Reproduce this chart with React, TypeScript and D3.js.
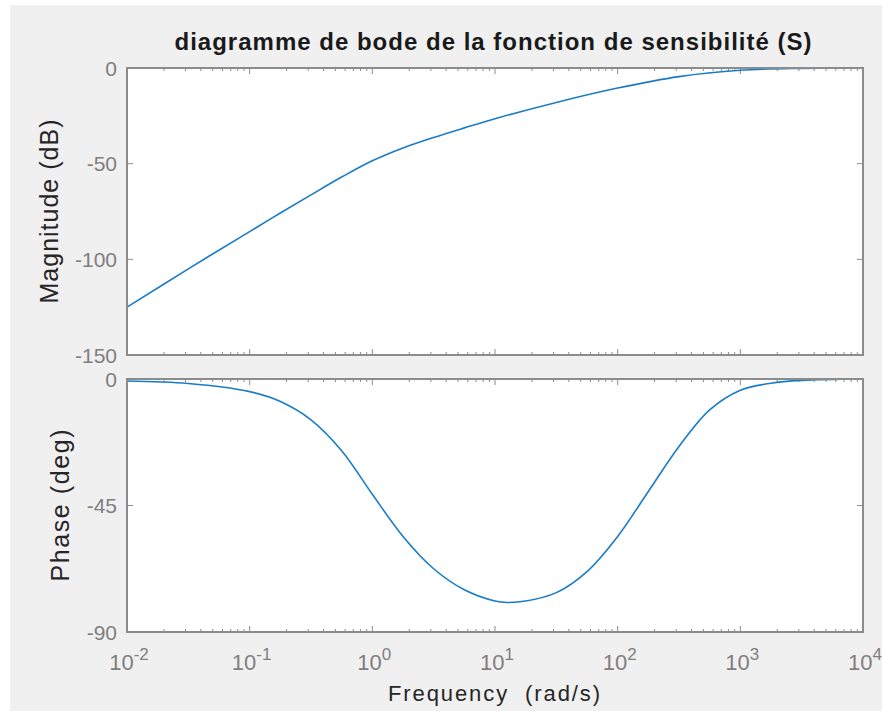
import React, { useEffect, useRef } from 'react';
import * as d3 from 'd3';

// frequencies as log10(rad/s)
const magFreqExp = [-2, -1.5, -1, -0.75, -0.5, -0.25, 0, 0.25, 0.5, 0.75, 1, 1.5, 2, 2.5, 3, 3.5, 4];
const magDb = [-125, -105, -85.5, -75.8, -66.3, -57, -48.5, -41.8, -36.3, -31.3, -26.5, -18, -10.5, -4.5, -1.2, -0.2, 0];

const phaseFreqExp = [-2, -1.5, -1, -0.75, -0.5, -0.25, 0, 0.25, 0.5, 0.75, 1, 1.1, 1.25, 1.5, 1.75, 2, 2.25, 2.5, 2.75, 3, 3.25, 3.5, 4];
const phaseDeg = [-0.7, -1.6, -4.5, -8, -14.5, -25.5, -41, -56, -67.5, -75, -79, -79.5, -79, -76, -68.5, -56, -40, -24, -11, -4, -1.5, -0.5, 0];

const decades = [-2, -1, 0, 1, 2, 3, 4];
const magTicks = [0, -50, -100, -150];
const phaseTicks = [0, -45, -90];

const title = 'diagramme de bode de la fonction de sensibilité (S)';

const App = () => {
  const svgRef = useRef<SVGSVGElement>(null);

  useEffect(() => {
    const width = 882;
    const height = 711;
    const left = 127;
    const right = 863;
    const font = 'Liberation Sans, Arial, Helvetica, sans-serif';
    const axisColor = '#8c8c8c';
    const lineColor = '#1a7cc6';

    const svg = d3.select(svgRef.current);
    svg.selectAll('*').remove();
    svg.attr('width', width).attr('height', height);

    svg.append('rect').attr('x', 10).attr('y', 5).attr('width', width - 10).attr('height', height - 5).attr('fill', '#f0f0f0');

    const x = d3.scaleLog().domain([1e-2, 1e4]).range([left, right]);

    const minorTicks: number[] = [];
    decades.slice(0, -1).forEach(e => {
      for (let k = 2; k <= 9; k++) minorTicks.push(k * Math.pow(10, e));
    });

    const drawPanel = (top: number, bottom: number, yDomain: [number, number], yTicks: number[], fx: number[], fy: number[], label: string, labelX: number, labelLen: number) => {
      const y = d3.scaleLinear().domain(yDomain).range([bottom, top]);
      const g = svg.append('g');
      g.append('rect').attr('x', left).attr('y', top).attr('width', right - left).attr('height', bottom - top).attr('fill', 'white');

      // ticks on all four sides, pointing inwards
      decades.forEach(e => {
        const px = x(Math.pow(10, e));
        g.append('line').attr('x1', px).attr('x2', px).attr('y1', bottom).attr('y2', bottom - 6).attr('stroke', axisColor);
        g.append('line').attr('x1', px).attr('x2', px).attr('y1', top).attr('y2', top + 6).attr('stroke', axisColor);
      });
      minorTicks.forEach(v => {
        const px = x(v);
        g.append('line').attr('x1', px).attr('x2', px).attr('y1', bottom).attr('y2', bottom - 3).attr('stroke', axisColor);
        g.append('line').attr('x1', px).attr('x2', px).attr('y1', top).attr('y2', top + 3).attr('stroke', axisColor);
      });
      yTicks.forEach(t => {
        const py = y(t);
        g.append('line').attr('x1', left).attr('x2', left + 6).attr('y1', py).attr('y2', py).attr('stroke', axisColor);
        g.append('line').attr('x1', right).attr('x2', right - 6).attr('y1', py).attr('y2', py).attr('stroke', axisColor);
        g.append('text').attr('x', left - 10).attr('y', py).attr('dy', '0.36em').attr('text-anchor', 'end')
          .attr('font-family', font).attr('font-size', 21).attr('fill', '#7f7f7f').text(t);
      });

      const line = d3.line<number>()
        .x((_, i) => x(Math.pow(10, fx[i])))
        .y(d => y(d))
        .curve(d3.curveCatmullRom.alpha(0.5));
      g.append('path').datum(fy).attr('d', line).attr('fill', 'none').attr('stroke', lineColor).attr('stroke-width', 1.6);

      g.append('rect').attr('x', left).attr('y', top).attr('width', right - left).attr('height', bottom - top)
        .attr('fill', 'none').attr('stroke', axisColor).attr('stroke-width', 2);

      g.append('text').attr('transform', `translate(${labelX},${(top + bottom) / 2}) rotate(-90)`)
        .attr('text-anchor', 'middle').attr('font-family', font).attr('font-size', 25).attr('fill', '#262626')
        .attr('textLength', labelLen).attr('lengthAdjust', 'spacing').text(label);
    };

    drawPanel(68, 355, [-150, 0], magTicks, magFreqExp, magDb, 'Magnitude (dB)', 58, 184);
    drawPanel(379, 632, [-90, 0], phaseTicks, phaseFreqExp, phaseDeg, 'Phase (deg)', 69, 152);

    // x tick labels 10^n
    decades.forEach(e => {
      const t = svg.append('text').attr('x', x(Math.pow(10, e)) + 2).attr('y', 670).attr('text-anchor', 'middle')
        .attr('font-family', font).attr('font-size', 22).attr('fill', '#7f7f7f');
      t.append('tspan').text('10');
      t.append('tspan').attr('dy', -10).attr('font-size', 17).text(e);
    });

    svg.append('text').attr('x', 494).attr('y', 701).attr('text-anchor', 'middle')
      .attr('font-family', font).attr('font-size', 22).attr('fill', '#262626')
      .attr('textLength', 212).attr('lengthAdjust', 'spacing')
      .attr('xml:space', 'preserve').style('white-space', 'pre').text('Frequency  (rad/s)');

    svg.append('text').attr('x', 493).attr('y', 50).attr('text-anchor', 'middle')
      .attr('font-family', font).attr('font-size', 24).attr('font-weight', 'bold').attr('fill', '#1a1a1a')
      .attr('textLength', 637).attr('lengthAdjust', 'spacing').text(title);
  }, []);

  return <svg ref={svgRef} style={{ position: 'fixed', left: 0, top: 0, background: 'white' }}></svg>;
};

export default App;
